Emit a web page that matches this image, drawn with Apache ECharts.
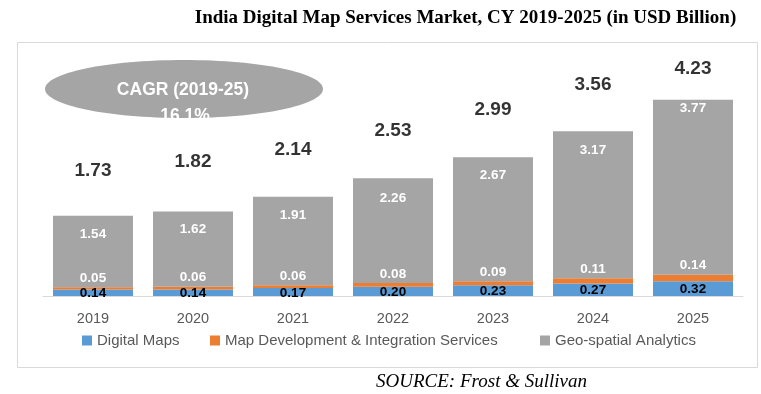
<!DOCTYPE html>
<html>
<head>
<meta charset="utf-8">
<script src="https://cdn.jsdelivr.net/npm/echarts@6/dist/echarts.min.js"></script>
<style>html,body{margin:0;padding:0;background:#fff}#c{width:761px;height:394px}</style>
</head>
<body>
<div id="c"></div>
<script>
const years = ['2019','2020','2021','2022','2023','2024','2025'];
const digitalMaps = [0.14,0.14,0.17,0.20,0.23,0.27,0.32];
const mapDevIntegration = [0.05,0.06,0.06,0.08,0.09,0.11,0.14];
const geoSpatial = [1.54,1.62,1.91,2.26,2.67,3.17,3.77];
const totals = [1.73,1.82,2.14,2.53,2.99,3.56,4.23];
const seriesNames = ['Digital Maps','Map Development & Integration Services','Geo-spatial Analytics'];
const titleText = 'India Digital Map Services Market, CY 2019-2025 (in USD Billion)';
const cagrLines = ['CAGR (2019-25)','16.1%'];
const sourceText = 'SOURCE: Frost & Sullivan';

const colors = ['#5B9BD5','#ED7D31','#A5A5A5'];
const FONT = '"Liberation Sans", Arial, sans-serif';
const totalGap = [35,40,37,38,38,37,21];
const geoGap = [12,11,12,13,11,12,2];

const chart = echarts.init(document.getElementById('c'), null, {renderer:'canvas'});
const legendLeft = [82,210,540];
const option = {
  animation:false,
  grid:{left:43, width:700, top:64, height:232},
  xAxis:{type:'category', data:years,
    axisLine:{lineStyle:{color:'#D9D9D9', width:1}}, axisTick:{show:false},
    axisLabel:{color:'#595959', fontFamily:FONT, fontSize:14.5, margin:15}},
  yAxis:{type:'value', min:0, max:5, show:false, splitLine:{show:false}},
  legend: seriesNames.map((n,i)=>({data:[n], left:legendLeft[i], top:333, padding:0, icon:'rect', itemWidth:10, itemHeight:10, itemGap:5,
    textStyle:{color:'#595959', fontFamily:FONT, fontSize:15}, selectedMode:false})),
  series:[
    {name:seriesNames[0], type:'bar', stack:'s', barWidth:80, data:digitalMaps, itemStyle:{color:colors[0]},
      label:{show:true, position:'inside', offset:[0,1], color:'#000', fontWeight:'bold', fontFamily:FONT, fontSize:13.5, formatter:p=>p.value.toFixed(2)}},
    {name:seriesNames[1], type:'bar', stack:'s', barWidth:80, data:mapDevIntegration, itemStyle:{color:colors[1]},
      label:{show:true, position:'top', distance:2, color:'#fff', fontWeight:'bold', fontFamily:FONT, fontSize:13.5, formatter:p=>p.value.toFixed(2)}},
    {name:seriesNames[2], type:'bar', stack:'s', barWidth:80, itemStyle:{color:colors[2]},
      data:geoSpatial.map((v,i)=>({value:v, label:{distance:geoGap[i]}})),
      label:{show:true, position:'insideTop', color:'#fff', fontWeight:'bold', fontFamily:FONT, fontSize:13.5, formatter:p=>p.value.toFixed(2)}},
    {name:'Total', type:'scatter', symbolSize:0, silent:true,
      data:totals.map((v,i)=>({value:[years[i], v], label:{distance:totalGap[i]}})),
      label:{show:true, position:'top', color:'#000', fontWeight:'bold', fontFamily:FONT, fontSize:19, formatter:p=>p.value[1].toFixed(2)}}
  ],
  graphic:[
    {type:'rect', shape:{x:17.5, y:42.5, width:740, height:325}, style:{fill:'none', stroke:'#D9D9D9', lineWidth:1}, z:-1},
    {type:'ellipse', shape:{cx:184, cy:89, rx:139, ry:29}, style:{fill:'#A5A5A5'}, z:10},
    {type:'text', x:183, y:90, style:{text:cagrLines[0], fill:'#fff', font:'bold 17.5px '+FONT, textAlign:'center', textVerticalAlign:'middle'}, z:11},
    {type:'text', x:185, y:116, style:{text:cagrLines[1], fill:'#fff', font:'bold 17.5px '+FONT, textAlign:'center', textVerticalAlign:'middle'}, z:11},
    {type:'text', x:465.5, y:18, style:{text:titleText, fill:'#000', font:'bold 19px "Liberation Serif", "Times New Roman", serif', textAlign:'center', textVerticalAlign:'middle'}},
    {type:'text', x:481.5, y:382, style:{text:sourceText, fill:'#000', font:'italic 19px "Liberation Serif", "Times New Roman", serif', textAlign:'center', textVerticalAlign:'middle'}}
  ]
};
chart.setOption(option);
</script>
</body>
</html>
